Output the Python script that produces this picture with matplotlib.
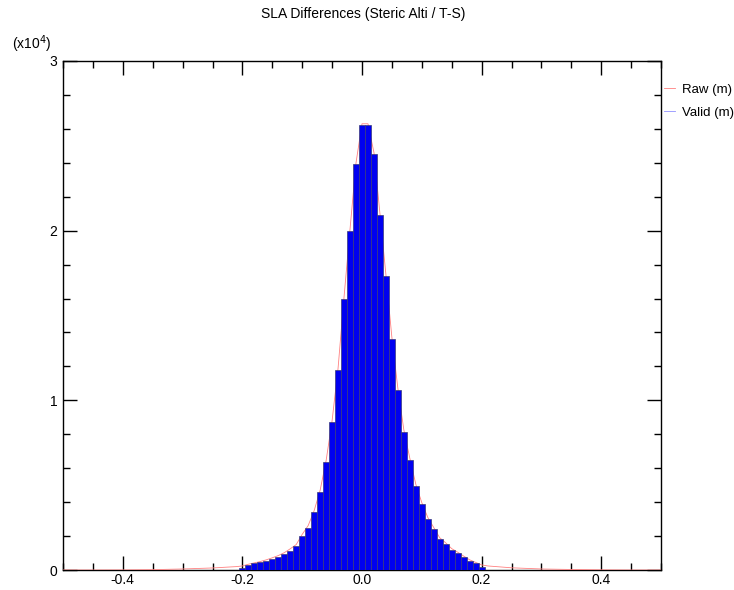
import numpy as np
import matplotlib.pyplot as plt
from matplotlib.lines import Line2D
from matplotlib.ticker import MultipleLocator

plt.rcParams['font.family'] = ['Liberation Sans', 'DejaVu Sans']

# Valid histogram, bins of 0.01 centred on -0.20 ... 0.20 (units of 1e4)
valid_centers = np.round(np.arange(-0.20, 0.2001, 0.01), 2)
valid_counts = [0.014, 0.030, 0.039, 0.045, 0.053, 0.065, 0.078, 0.094, 0.114, 0.140,
                0.200, 0.250, 0.340, 0.460, 0.636, 0.870, 1.180, 1.600, 2.000, 2.390,
                2.620, 2.620, 2.450, 2.090, 1.730, 1.360, 1.060, 0.815, 0.648, 0.495,
                0.387, 0.300, 0.240, 0.180, 0.151, 0.118, 0.098, 0.075, 0.053, 0.039,
                0.020]

# empty bins out to the plot edges
empty_left = np.round(np.arange(-0.50, -0.2001, 0.01), 2)
empty_right = np.round(np.arange(0.21, 0.5001, 0.01), 2)

# Raw histogram (drawn as a line)
raw_x = [-0.50, -0.45, -0.40, -0.35, -0.30, -0.25, -0.21,
         -0.20, -0.19, -0.18, -0.17, -0.16, -0.15, -0.14, -0.13, -0.12, -0.11,
         -0.10, -0.09, -0.08, -0.07, -0.06, -0.05, -0.04, -0.03, -0.02, -0.01,
         0.00, 0.01, 0.02, 0.03, 0.04, 0.05, 0.06, 0.07, 0.08, 0.09,
         0.10, 0.11, 0.12, 0.13, 0.14, 0.15, 0.16, 0.17, 0.18, 0.19, 0.20,
         0.21, 0.25, 0.30, 0.35, 0.40, 0.45, 0.50]
raw_y = [0.0, 0.0, 0.0005, 0.002, 0.006, 0.012, 0.020,
         0.024, 0.034, 0.042, 0.050, 0.060, 0.072, 0.085, 0.102, 0.125, 0.150,
         0.210, 0.262, 0.350, 0.470, 0.645, 0.880, 1.190, 1.610, 2.010, 2.400,
         2.630, 2.630, 2.460, 2.100, 1.740, 1.370, 1.070, 0.825, 0.658, 0.505,
         0.397, 0.310, 0.250, 0.190, 0.160, 0.126, 0.105, 0.082, 0.060, 0.045, 0.030,
         0.024, 0.013, 0.006, 0.003, 0.001, 0.0, 0.0]

fig = plt.figure(figsize=(7.34, 5.90), dpi=100)
ax = fig.add_axes([63 / 734, 20 / 590, 598 / 734, 509 / 590])

ax.plot(raw_x, raw_y, color='#ff8080', linewidth=0.6, zorder=2.6)
ax.bar(np.concatenate([empty_left, valid_centers, empty_right]),
       np.concatenate([np.zeros(len(empty_left)), valid_counts, np.zeros(len(empty_right))]),
       width=0.01, color='#0000f0', edgecolor='#3a3a78', linewidth=0.5, zorder=3)

ax.set_xlim(-0.5, 0.5)
ax.set_ylim(0, 3)
ax.xaxis.set_major_locator(MultipleLocator(0.2))
ax.xaxis.set_minor_locator(MultipleLocator(0.05))
ax.yaxis.set_major_locator(MultipleLocator(1))
ax.yaxis.set_minor_locator(MultipleLocator(0.2))
ax.set_xticks([-0.4, -0.2, 0.0, 0.2, 0.4])
ax.set_xticklabels(['-0.4', '-0.2', '0.0', '0.2', '0.4'])
ax.tick_params(which='both', direction='in', top=True, right=True, labelsize=10, width=1)
ax.tick_params(which='major', length=10)
ax.tick_params(axis='x', which='major', pad=2)
ax.tick_params(axis='y', which='major', pad=4)
ax.tick_params(which='minor', length=5)
for s in ax.spines.values():
    s.set_linewidth(1)

fig.text(363 / 734, 1 - 14 / 590, 'SLA Differences (Steric Alti / T-S)', ha='center', va='center', fontsize=10)
fig.text(12 / 734, 1 - 44 / 590, r'(x10$^4$)', ha='left', va='center', fontsize=10)

handles = [Line2D([], [], color='#ff8080', linewidth=0.6),
           Line2D([], [], color='#9090ff', linewidth=0.6)]
fig.legend(handles, ['Raw (m)', 'Valid (m)'], loc='upper left',
           bbox_to_anchor=(657 / 734, 1 - 77 / 590), frameon=False, fontsize=9.5,
           handlelength=0.9, handletextpad=0.5, labelspacing=0.8, borderpad=0)

fig.savefig('out.png', dpi=100)
